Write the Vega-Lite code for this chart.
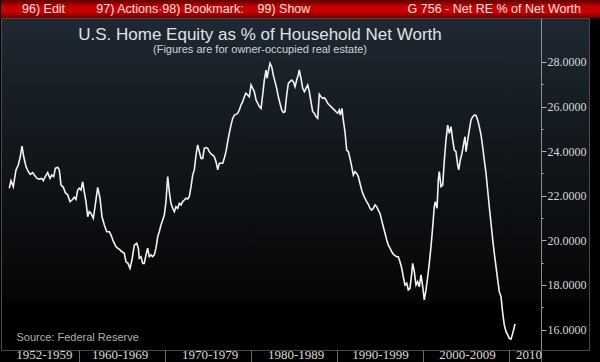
{
  "$schema": "https://vega.github.io/schema/vega-lite/v6.json",
  "padding": 0,
  "spacing": 0,
  "bounds": "flush",
  "background": "#000000",
  "config": {"axis": {"grid": false}, "title": {"font": "Liberation Sans"}},
  "vconcat": [
    {
      "width": 600,
      "height": 18,
      "view": {
        "stroke": null,
        "fill": {"gradient": "linear", "x1": 0, "y1": 0, "x2": 0, "y2": 1,
          "stops": [{"offset": 0, "color": "#5c0000"}, {"offset": 0.35, "color": "#c40000"}, {"offset": 0.65, "color": "#cc0000"}, {"offset": 1, "color": "#640000"}]}
      },
      "data": {"values": [
        {"label": "96) Edit\u00a0\u00a0\u00a0\u00a0\u00a0\u00a0\u00a0\u00a0\u00a097) Actions\u00b798) Bookmark:\u00a0\u00a0\u00a0\u00a099) Show", "side": "left"},
        {"label": "G 756 - Net RE % of Net Worth", "side": "right"}
      ]},
      "layer": [
        {
          "transform": [{"filter": "datum.side == 'left'"}],
          "mark": {"type": "text", "align": "left", "baseline": "middle", "dx": 21, "font": "Liberation Sans", "fontSize": 12.5, "color": "#f3e2e2"},
          "encoding": {
            "x": {"field": "side", "type": "nominal", "scale": {"type": "point", "domain": ["left", "right"], "padding": 0}, "axis": null},
            "text": {"field": "label"}
          }
        },
        {
          "transform": [{"filter": "datum.side == 'right'"}],
          "mark": {"type": "text", "align": "right", "baseline": "middle", "dx": -20, "font": "Liberation Sans", "fontSize": 12.5, "color": "#f3e2e2"},
          "encoding": {
            "x": {"field": "side", "type": "nominal", "scale": {"type": "point", "domain": ["left", "right"], "padding": 0}, "axis": null},
            "text": {"field": "label"}
          }
        }
      ]
    },
    {
      "width": 588,
      "height": 332,
      "view": {
        "stroke": "#4a4a4a",
        "fill": {"gradient": "linear", "x1": 0, "y1": 0, "x2": 0, "y2": 1,
          "stops": [{"offset": 0, "color": "#1f2933"}, {"offset": 0.25, "color": "#161d24"}, {"offset": 0.5, "color": "#0f1317"}, {"offset": 0.75, "color": "#08090b"}, {"offset": 0.855, "color": "#050506"}, {"offset": 0.86, "color": "#000000"}, {"offset": 1, "color": "#000000"}]}
      },
      "title": {
        "text": "U.S. Home Equity as % of Household Net Worth",
        "subtitle": "\u00a0\u00a0\u00a0\u00a0\u00a0(Figures are for owner-occupied real estate)",
        "anchor": "middle",
        "offset": -38,
        "dx": -35,
        "fontSize": 17,
        "fontWeight": "normal",
        "color": "#dfe3e6",
        "subtitleFont": "Liberation Sans",
        "subtitleFontSize": 11,
        "subtitleColor": "#cfd4d8",
        "subtitlePadding": 0
      },
      "data": {"values": [
        {"year": 1951.92, "value": 22.34}, {"year": 1952.12, "value": 22.68}, {"year": 1952.39, "value": 22.41}, {"year": 1952.70, "value": 23.16},
        {"year": 1952.97, "value": 23.38}, {"year": 1953.20, "value": 23.75}, {"year": 1953.40, "value": 24.23}, {"year": 1953.60, "value": 23.75},
        {"year": 1953.86, "value": 23.31}, {"year": 1954.13, "value": 23.08}, {"year": 1954.36, "value": 22.96}, {"year": 1954.64, "value": 23.04},
        {"year": 1954.83, "value": 22.93}, {"year": 1955.14, "value": 22.78}, {"year": 1955.41, "value": 22.75}, {"year": 1955.69, "value": 22.78},
        {"year": 1955.87, "value": 22.68}, {"year": 1956.10, "value": 22.86}, {"year": 1956.38, "value": 23.04}, {"year": 1956.65, "value": 22.78},
        {"year": 1956.85, "value": 22.93}, {"year": 1957.08, "value": 22.86}, {"year": 1957.27, "value": 23.23}, {"year": 1957.55, "value": 23.28},
        {"year": 1957.73, "value": 23.16}, {"year": 1957.93, "value": 22.48}, {"year": 1958.20, "value": 22.38}, {"year": 1958.43, "value": 22.14},
        {"year": 1958.71, "value": 22.04}, {"year": 1958.97, "value": 21.74}, {"year": 1959.21, "value": 21.81}, {"year": 1959.47, "value": 21.93},
        {"year": 1959.67, "value": 21.84}, {"year": 1959.87, "value": 22.26}, {"year": 1960.05, "value": 22.34}, {"year": 1960.25, "value": 22.26},
        {"year": 1960.45, "value": 22.63}, {"year": 1960.63, "value": 22.18}, {"year": 1960.83, "value": 21.74}, {"year": 1961.03, "value": 21.06},
        {"year": 1961.21, "value": 21.29}, {"year": 1961.41, "value": 21.21}, {"year": 1961.68, "value": 20.99}, {"year": 1961.91, "value": 21.59},
        {"year": 1962.19, "value": 22.38}, {"year": 1962.46, "value": 21.89}, {"year": 1962.69, "value": 21.06}, {"year": 1962.96, "value": 20.69},
        {"year": 1963.24, "value": 20.39}, {"year": 1963.54, "value": 20.39}, {"year": 1963.74, "value": 20.24}, {"year": 1964.02, "value": 19.94},
        {"year": 1964.32, "value": 19.72}, {"year": 1964.51, "value": 19.65}, {"year": 1964.78, "value": 19.57}, {"year": 1965.01, "value": 19.49},
        {"year": 1965.28, "value": 19.42}, {"year": 1965.48, "value": 19.04}, {"year": 1965.71, "value": 18.97}, {"year": 1965.94, "value": 18.75},
        {"year": 1966.17, "value": 19.12}, {"year": 1966.44, "value": 19.79}, {"year": 1966.72, "value": 19.87}, {"year": 1966.91, "value": 19.65},
        {"year": 1967.02, "value": 19.20}, {"year": 1967.22, "value": 19.27}, {"year": 1967.42, "value": 18.97}, {"year": 1967.60, "value": 18.97},
        {"year": 1967.80, "value": 19.35}, {"year": 1967.99, "value": 19.65}, {"year": 1968.18, "value": 19.27}, {"year": 1968.38, "value": 19.35},
        {"year": 1968.58, "value": 19.27}, {"year": 1968.76, "value": 19.35}, {"year": 1968.96, "value": 19.65}, {"year": 1969.16, "value": 20.17},
        {"year": 1969.34, "value": 20.39}, {"year": 1969.54, "value": 20.69}, {"year": 1969.74, "value": 20.91}, {"year": 1969.93, "value": 21.14},
        {"year": 1970.12, "value": 21.74}, {"year": 1970.32, "value": 22.86}, {"year": 1970.51, "value": 22.18}, {"year": 1970.70, "value": 21.66},
        {"year": 1970.90, "value": 21.44}, {"year": 1971.09, "value": 21.29}, {"year": 1971.28, "value": 21.51}, {"year": 1971.48, "value": 21.44},
        {"year": 1971.67, "value": 21.66}, {"year": 1971.87, "value": 21.59}, {"year": 1972.06, "value": 21.74}, {"year": 1972.25, "value": 21.81},
        {"year": 1972.45, "value": 21.89}, {"year": 1972.64, "value": 21.86}, {"year": 1972.83, "value": 21.96}, {"year": 1973.03, "value": 22.41},
        {"year": 1973.22, "value": 22.93}, {"year": 1973.41, "value": 23.16}, {"year": 1973.61, "value": 23.83}, {"year": 1973.80, "value": 24.28},
        {"year": 1973.99, "value": 23.98}, {"year": 1974.19, "value": 23.68}, {"year": 1974.39, "value": 23.68}, {"year": 1974.57, "value": 24.13},
        {"year": 1974.77, "value": 24.16}, {"year": 1974.97, "value": 24.13}, {"year": 1975.15, "value": 23.98}, {"year": 1975.35, "value": 23.88},
        {"year": 1975.55, "value": 23.83}, {"year": 1975.73, "value": 23.75}, {"year": 1975.93, "value": 23.53}, {"year": 1976.13, "value": 23.16},
        {"year": 1976.31, "value": 23.46}, {"year": 1976.51, "value": 23.46}, {"year": 1976.71, "value": 23.46}, {"year": 1976.89, "value": 23.68},
        {"year": 1977.09, "value": 23.98}, {"year": 1977.29, "value": 24.43}, {"year": 1977.47, "value": 24.80}, {"year": 1977.67, "value": 25.17},
        {"year": 1977.87, "value": 25.47}, {"year": 1978.06, "value": 25.62}, {"year": 1978.25, "value": 25.65}, {"year": 1978.45, "value": 25.70},
        {"year": 1978.64, "value": 25.85}, {"year": 1978.83, "value": 26.07}, {"year": 1979.03, "value": 26.22}, {"year": 1979.22, "value": 26.44},
        {"year": 1979.41, "value": 26.60}, {"year": 1979.61, "value": 26.52}, {"year": 1979.80, "value": 26.44}, {"year": 1980.00, "value": 26.97},
        {"year": 1980.19, "value": 26.82}, {"year": 1980.38, "value": 26.67}, {"year": 1980.58, "value": 26.30}, {"year": 1980.77, "value": 26.15},
        {"year": 1980.96, "value": 26.00}, {"year": 1981.16, "value": 25.92}, {"year": 1981.35, "value": 26.52}, {"year": 1981.54, "value": 27.19},
        {"year": 1981.74, "value": 27.64}, {"year": 1981.85, "value": 27.27}, {"year": 1982.00, "value": 27.57}, {"year": 1982.20, "value": 27.94},
        {"year": 1982.40, "value": 27.79}, {"year": 1982.58, "value": 27.42}, {"year": 1982.78, "value": 27.12}, {"year": 1982.98, "value": 26.82},
        {"year": 1983.17, "value": 26.44}, {"year": 1983.36, "value": 26.15}, {"year": 1983.56, "value": 25.85}, {"year": 1983.75, "value": 25.74},
        {"year": 1983.94, "value": 25.77}, {"year": 1984.14, "value": 26.52}, {"year": 1984.33, "value": 27.04}, {"year": 1984.52, "value": 27.12},
        {"year": 1984.72, "value": 27.19}, {"year": 1984.91, "value": 27.12}, {"year": 1985.11, "value": 26.89}, {"year": 1985.30, "value": 27.19},
        {"year": 1985.49, "value": 27.42}, {"year": 1985.60, "value": 27.64}, {"year": 1985.80, "value": 27.27}, {"year": 1986.00, "value": 26.82},
        {"year": 1986.19, "value": 26.67}, {"year": 1986.38, "value": 26.82}, {"year": 1986.58, "value": 26.97}, {"year": 1986.77, "value": 26.67},
        {"year": 1986.96, "value": 26.22}, {"year": 1987.16, "value": 25.77}, {"year": 1987.35, "value": 25.70}, {"year": 1987.54, "value": 25.55},
        {"year": 1987.74, "value": 25.47}, {"year": 1987.93, "value": 26.55}, {"year": 1988.12, "value": 26.44}, {"year": 1988.32, "value": 26.37},
        {"year": 1988.51, "value": 26.40}, {"year": 1988.71, "value": 26.30}, {"year": 1988.90, "value": 26.15}, {"year": 1989.09, "value": 26.07},
        {"year": 1989.29, "value": 26.00}, {"year": 1989.48, "value": 25.92}, {"year": 1989.67, "value": 25.85}, {"year": 1989.87, "value": 25.77},
        {"year": 1990.06, "value": 25.70}, {"year": 1990.25, "value": 25.85}, {"year": 1990.37, "value": 25.62}, {"year": 1990.56, "value": 25.92},
        {"year": 1990.71, "value": 25.40}, {"year": 1990.91, "value": 24.87}, {"year": 1991.11, "value": 24.05}, {"year": 1991.30, "value": 23.98},
        {"year": 1991.49, "value": 23.68}, {"year": 1991.69, "value": 23.31}, {"year": 1991.88, "value": 22.93}, {"year": 1992.07, "value": 23.08},
        {"year": 1992.27, "value": 23.00}, {"year": 1992.46, "value": 22.86}, {"year": 1992.65, "value": 22.56}, {"year": 1992.85, "value": 22.26},
        {"year": 1993.04, "value": 22.04}, {"year": 1993.23, "value": 21.89}, {"year": 1993.43, "value": 21.74}, {"year": 1993.62, "value": 21.62},
        {"year": 1993.82, "value": 21.44}, {"year": 1994.01, "value": 21.36}, {"year": 1994.20, "value": 21.44}, {"year": 1994.40, "value": 21.59},
        {"year": 1994.59, "value": 21.51}, {"year": 1994.78, "value": 21.36}, {"year": 1994.98, "value": 21.21}, {"year": 1995.17, "value": 20.91},
        {"year": 1995.36, "value": 20.61}, {"year": 1995.56, "value": 20.32}, {"year": 1995.76, "value": 20.02}, {"year": 1995.94, "value": 19.79},
        {"year": 1996.14, "value": 19.65}, {"year": 1996.34, "value": 19.49}, {"year": 1996.52, "value": 19.38}, {"year": 1996.72, "value": 19.32},
        {"year": 1996.92, "value": 19.27}, {"year": 1997.10, "value": 19.27}, {"year": 1997.30, "value": 19.04}, {"year": 1997.50, "value": 18.75},
        {"year": 1997.68, "value": 18.37}, {"year": 1997.88, "value": 18.00}, {"year": 1998.08, "value": 18.08}, {"year": 1998.26, "value": 17.78},
        {"year": 1998.46, "value": 17.85}, {"year": 1998.66, "value": 18.52}, {"year": 1998.77, "value": 18.97}, {"year": 1998.96, "value": 18.60},
        {"year": 1999.16, "value": 18.00}, {"year": 1999.35, "value": 18.15}, {"year": 1999.54, "value": 17.92}, {"year": 1999.74, "value": 18.45},
        {"year": 1999.94, "value": 17.92}, {"year": 2000.12, "value": 17.33}, {"year": 2000.32, "value": 17.78}, {"year": 2000.52, "value": 18.37},
        {"year": 2000.70, "value": 18.97}, {"year": 2000.90, "value": 19.72}, {"year": 2001.10, "value": 20.61}, {"year": 2001.28, "value": 21.51},
        {"year": 2001.40, "value": 21.74}, {"year": 2001.60, "value": 21.44}, {"year": 2001.75, "value": 22.71}, {"year": 2001.86, "value": 23.08},
        {"year": 2002.06, "value": 22.41}, {"year": 2002.26, "value": 22.48}, {"year": 2002.45, "value": 23.60}, {"year": 2002.64, "value": 24.50},
        {"year": 2002.84, "value": 25.17}, {"year": 2003.03, "value": 24.80}, {"year": 2003.22, "value": 25.10}, {"year": 2003.42, "value": 24.50},
        {"year": 2003.61, "value": 24.05}, {"year": 2003.80, "value": 23.98}, {"year": 2004.00, "value": 23.38}, {"year": 2004.12, "value": 23.16},
        {"year": 2004.30, "value": 23.60}, {"year": 2004.50, "value": 23.91}, {"year": 2004.70, "value": 24.35}, {"year": 2004.85, "value": 24.65},
        {"year": 2004.97, "value": 23.98}, {"year": 2005.16, "value": 24.50}, {"year": 2005.35, "value": 24.95}, {"year": 2005.55, "value": 25.40},
        {"year": 2005.74, "value": 25.55}, {"year": 2005.93, "value": 25.62}, {"year": 2006.13, "value": 25.60}, {"year": 2006.32, "value": 25.40},
        {"year": 2006.51, "value": 25.10}, {"year": 2006.71, "value": 24.73}, {"year": 2006.90, "value": 24.20}, {"year": 2007.09, "value": 23.60},
        {"year": 2007.29, "value": 23.01}, {"year": 2007.48, "value": 22.26}, {"year": 2007.67, "value": 21.51}, {"year": 2007.87, "value": 20.77},
        {"year": 2008.07, "value": 20.02}, {"year": 2008.25, "value": 19.42}, {"year": 2008.45, "value": 18.82}, {"year": 2008.65, "value": 18.22},
        {"year": 2008.83, "value": 17.70}, {"year": 2009.03, "value": 17.48}, {"year": 2009.23, "value": 16.73}, {"year": 2009.41, "value": 16.21},
        {"year": 2009.61, "value": 15.91}, {"year": 2009.81, "value": 15.76}, {"year": 2009.99, "value": 15.61}, {"year": 2010.19, "value": 15.57},
        {"year": 2010.39, "value": 15.83}, {"year": 2010.58, "value": 16.13}, {"year": 2010.66, "value": 16.25}
      ]},
      "mark": {"type": "line", "color": "#f2f2f2", "strokeWidth": 1.6},
      "encoding": {
        "x": {
          "field": "year", "type": "quantitative",
          "scale": {"domain": [1950.96, 2019.25], "nice": false, "zero": false},
          "axis": {
            "values": [1955.95, 1960, 1964.73, 1970, 1975.19, 1980, 1985.17, 1990, 1994.98, 2000, 2005.08, 2010, 2012.22, 2013.67],
            "domain": false,
            "tickSize": 12,
            "tickColor": "#6a6a6a",
            "tickOpacity": {"condition": {"test": "datum.value % 10 == 0 || datum.value > 2013", "value": 1}, "value": 0},
            "labelExpr": "datum.value % 10 == 0 || datum.value > 2013 ? '' : datum.value < 1960 ? '1952-1959' : datum.value < 1970 ? '1960-1969' : datum.value < 1980 ? '1970-1979' : datum.value < 1990 ? '1980-1989' : datum.value < 2000 ? '1990-1999' : datum.value < 2010 ? '2000-2009' : '2010'",
            "labelFont": "Liberation Serif",
            "labelFontSize": 13,
            "labelColor": "#d8d8d8",
            "labelPadding": -14,
            "labelFlush": false,
            "labelOverlap": false,
            "labelBound": false,
            "title": "Source: Federal Reserve",
            "titleFont": "Liberation Sans",
            "titleFontSize": 11,
            "titleFontWeight": "normal",
            "titleColor": "#aab0b5",
            "titleAnchor": "start",
            "titleAlign": "left",
            "titleBaseline": "middle",
            "titleX": 15,
            "titleY": -13
          }
        },
        "y": {
          "field": "value", "type": "quantitative",
          "scale": {"domain": [15.085, 29.973], "nice": false, "zero": false},
          "axis": {
            "orient": "right",
            "offset": -48,
            "values": [16, 17, 18, 19, 20, 21, 22, 23, 24, 25, 26, 27, 28],
            "domainColor": "#8a8f94",
            "tickColor": "#b0b4b8",
            "tickSize": {"condition": {"test": "datum.value % 2 == 0", "value": 5}, "value": 2},
            "labelExpr": "datum.value % 2 == 0 ? format(datum.value, '.4f') : ''",
            "labelFont": "Liberation Serif",
            "labelFontSize": 12,
            "labelColor": "#d8d8d8",
            "labelPadding": 1,
            "labelOverlap": false,
            "labelBound": false,
            "title": null
          }
        }
      }
    }
  ]
}
